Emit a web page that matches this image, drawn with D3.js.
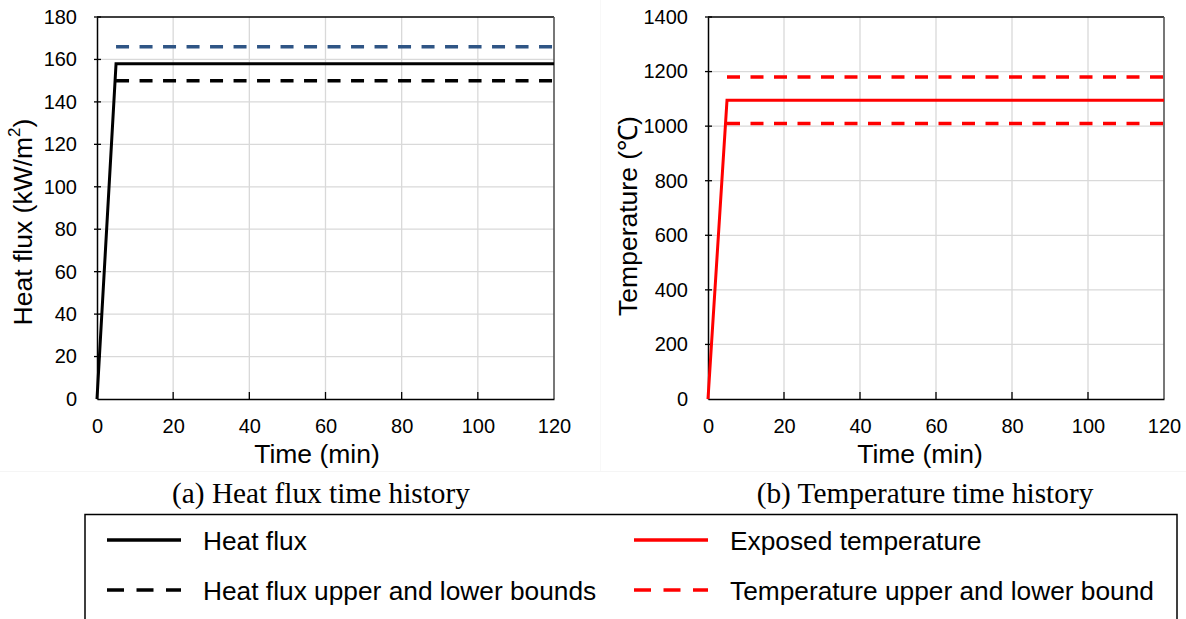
<!DOCTYPE html>
<html>
<head>
<meta charset="utf-8">
<script src="https://cdn.jsdelivr.net/npm/d3@7"></script>
<style>
  html, body { margin: 0; padding: 0; background: #fff; }
  svg { display: block; }
</style>
</head>
<body>
<svg id="fig" width="1186" height="619"></svg>
<script>
// ---- data ----
const timeMin = [0, 5, 120];            // heating curve time points (min)
const boundTime = [5, 120];             // time span of the bound lines (min)
const heatFlux = [0, 158, 158];         // kW/m2
const heatFluxUpper = [166, 166];
const heatFluxLower = [150, 150];
const temperature = [0, 1095, 1095];    // °C
const temperatureUpper = [1180, 1180];
const temperatureLower = [1010, 1010];
const timeTicks = [0, 20, 40, 60, 80, 100, 120];
const fluxTicks = [0, 20, 40, 60, 80, 100, 120, 140, 160, 180];
const tempTicks = [0, 200, 400, 600, 800, 1000, 1200, 1400];

const SANS = "'Liberation Sans', Arial, sans-serif";
const SERIF = "'Liberation Serif', 'Times New Roman', serif";

const svg = d3.select("#fig");

// faint panel separators of the composite figure
svg.append("line").attr("x1", 0).attr("x2", 1186).attr("y1", 471.5).attr("y2", 471.5)
  .attr("stroke", "#f5f5f5").attr("stroke-width", 1);
svg.append("line").attr("x1", 600.5).attr("x2", 600.5).attr("y1", 0).attr("y2", 471)
  .attr("stroke", "#f8f8f8").attr("stroke-width", 1);

function panel(opts) {
  const { left, right, top, bottom, yMax, yTicks, series, yTitle, yTitlePos, xTitleX, caption, captionX } = opts;
  const x = d3.scaleLinear().domain([0, 120]).range([left, right]);
  const y = d3.scaleLinear().domain([0, yMax]).range([bottom, top]);
  const g = svg.append("g");

  // grid
  g.append("g").selectAll("line").data(timeTicks.slice(1, -1)).join("line")
    .attr("x1", d => x(d)).attr("x2", d => x(d)).attr("y1", top).attr("y2", bottom)
    .attr("stroke", "#d9d9d9").attr("stroke-width", 1.3);
  g.append("g").selectAll("line").data(yTicks.slice(1, -1)).join("line")
    .attr("x1", left).attr("x2", right).attr("y1", d => y(d)).attr("y2", d => y(d))
    .attr("stroke", "#d9d9d9").attr("stroke-width", 1.3);

  // frame
  g.append("line").attr("x1", left).attr("x2", right).attr("y1", top).attr("y2", top)
    .attr("stroke", "#000").attr("stroke-width", 1.4);
  g.append("line").attr("x1", right).attr("x2", right).attr("y1", top).attr("y2", bottom)
    .attr("stroke", "#555").attr("stroke-width", 1.6);

  // x axis with inward ticks
  const xAxis = d3.axisBottom(x).tickValues(timeTicks).tickFormat(d3.format("d")).tickSize(0).tickPadding(0);
  const xa = g.append("g").attr("transform", `translate(0,${bottom})`).call(xAxis);
  xa.select(".domain").attr("stroke", "#000").attr("stroke-width", 1.5);
  xa.selectAll(".tick line").remove();
  xa.selectAll(".tick text").attr("y", 34).attr("dy", null)
    .attr("font-family", SANS).attr("font-size", 20).attr("fill", "#000");
  g.append("g").selectAll("line").data(timeTicks.slice(1, -1)).join("line")
    .attr("x1", d => x(d)).attr("x2", d => x(d)).attr("y1", bottom).attr("y2", bottom - 7)
    .attr("stroke", "#000").attr("stroke-width", 1.3);

  // y axis with crossing ticks
  const yAxis = d3.axisLeft(y).tickValues(yTicks).tickFormat(d3.format("d")).tickSize(0).tickPadding(20);
  const ya = g.append("g").attr("transform", `translate(${left},0)`).call(yAxis);
  ya.select(".domain").attr("stroke", "#000").attr("stroke-width", 1.5);
  ya.selectAll(".tick line").remove();
  ya.selectAll(".tick text").attr("font-family", SANS).attr("font-size", 20).attr("fill", "#000");
  g.append("g").selectAll("line").data(yTicks.slice(1)).join("line")
    .attr("x1", left - 3).attr("x2", left + 4).attr("y1", d => y(d)).attr("y2", d => y(d))
    .attr("stroke", "#000").attr("stroke-width", 1.3);

  // series
  const line = d3.line().x(d => x(d[0])).y(d => y(d[1]));
  series.forEach(s => {
    g.append("path").datum(d3.zip(s.t, s.v)).attr("d", line)
      .attr("fill", "none").attr("stroke", s.color).attr("stroke-width", s.width)
      .attr("stroke-dasharray", s.dash || null).attr("stroke-linejoin", "miter");
  });

  // titles
  g.append("text").attr("x", xTitleX).attr("y", 463).attr("text-anchor", "middle")
    .attr("font-family", SANS).attr("font-size", 26.5).text("Time (min)");
  const yt = g.append("text")
    .attr("transform", `translate(${yTitlePos[0]},${yTitlePos[1]}) rotate(-90)`)
    .attr("text-anchor", "middle").attr("dominant-baseline", "central")
    .attr("font-family", SANS).attr("font-size", 26.5);
  yTitle(yt);
  g.append("text").attr("x", captionX).attr("y", 503).attr("text-anchor", "middle")
    .attr("font-family", SERIF).attr("font-size", 29.3).text(caption);
}

panel({
  left: 97, right: 554, top: 17, bottom: 399,
  yMax: 180, yTicks: fluxTicks,
  series: [
    { t: boundTime, v: heatFluxUpper, color: "#2f5585", width: 3.5, dash: "13,10.5" },
    { t: boundTime, v: heatFluxLower, color: "#000", width: 3.5, dash: "13,10.5" },
    { t: timeMin, v: heatFlux, color: "#000", width: 3 }
  ],
  yTitle: t => {
    t.append("tspan").text("Heat flux (kW/m");
    t.append("tspan").attr("font-size", 17).attr("dy", -9).text("2");
    t.append("tspan").attr("dy", 9).text(")");
  },
  yTitlePos: [23, 222],
  xTitleX: 317,
  caption: "(a) Heat flux time history", captionX: 321
});

panel({
  left: 708, right: 1164, top: 17, bottom: 399,
  yMax: 1400, yTicks: tempTicks,
  series: [
    { t: boundTime, v: temperatureUpper, color: "#ff0000", width: 3.5, dash: "13,10.5" },
    { t: boundTime, v: temperatureLower, color: "#ff0000", width: 3.5, dash: "13,10.5" },
    { t: timeMin, v: temperature, color: "#ff0000", width: 3 }
  ],
  yTitle: t => t.text("Temperature (℃)"),
  yTitlePos: [628, 216],
  xTitleX: 920,
  caption: "(b) Temperature time history", captionX: 925
});

// ---- legend ----
const legendItems = [
  { label: "Heat flux", color: "#000", dash: null, col: 0, row: 0 },
  { label: "Heat flux upper and lower bounds", color: "#000", dash: "17,12.5", col: 0, row: 1 },
  { label: "Exposed temperature", color: "#ff0000", dash: null, col: 1, row: 0 },
  { label: "Temperature upper and lower bound", color: "#ff0000", dash: "17,12.5", col: 1, row: 1 }
];
const lg = svg.append("g");
lg.append("rect").attr("x", 85).attr("y", 514.5).attr("width", 1092).attr("height", 140)
  .attr("fill", "#fff").attr("stroke", "#000").attr("stroke-width", 1.5);
const colX = [107, 634];
const rowY = [540, 590];
const items = lg.selectAll("g.item").data(legendItems).join("g").attr("class", "item");
items.append("line")
  .attr("x1", d => colX[d.col]).attr("x2", d => colX[d.col] + 74)
  .attr("y1", d => rowY[d.row]).attr("y2", d => rowY[d.row])
  .attr("stroke", d => d.color).attr("stroke-width", 3.5)
  .attr("stroke-dasharray", d => d.dash);
items.append("text")
  .attr("x", d => colX[d.col] + 96).attr("y", d => rowY[d.row] + 1)
  .attr("dominant-baseline", "central")
  .attr("font-family", SANS).attr("font-size", 26.3)
  .text(d => d.label);
</script>
</body>
</html>
